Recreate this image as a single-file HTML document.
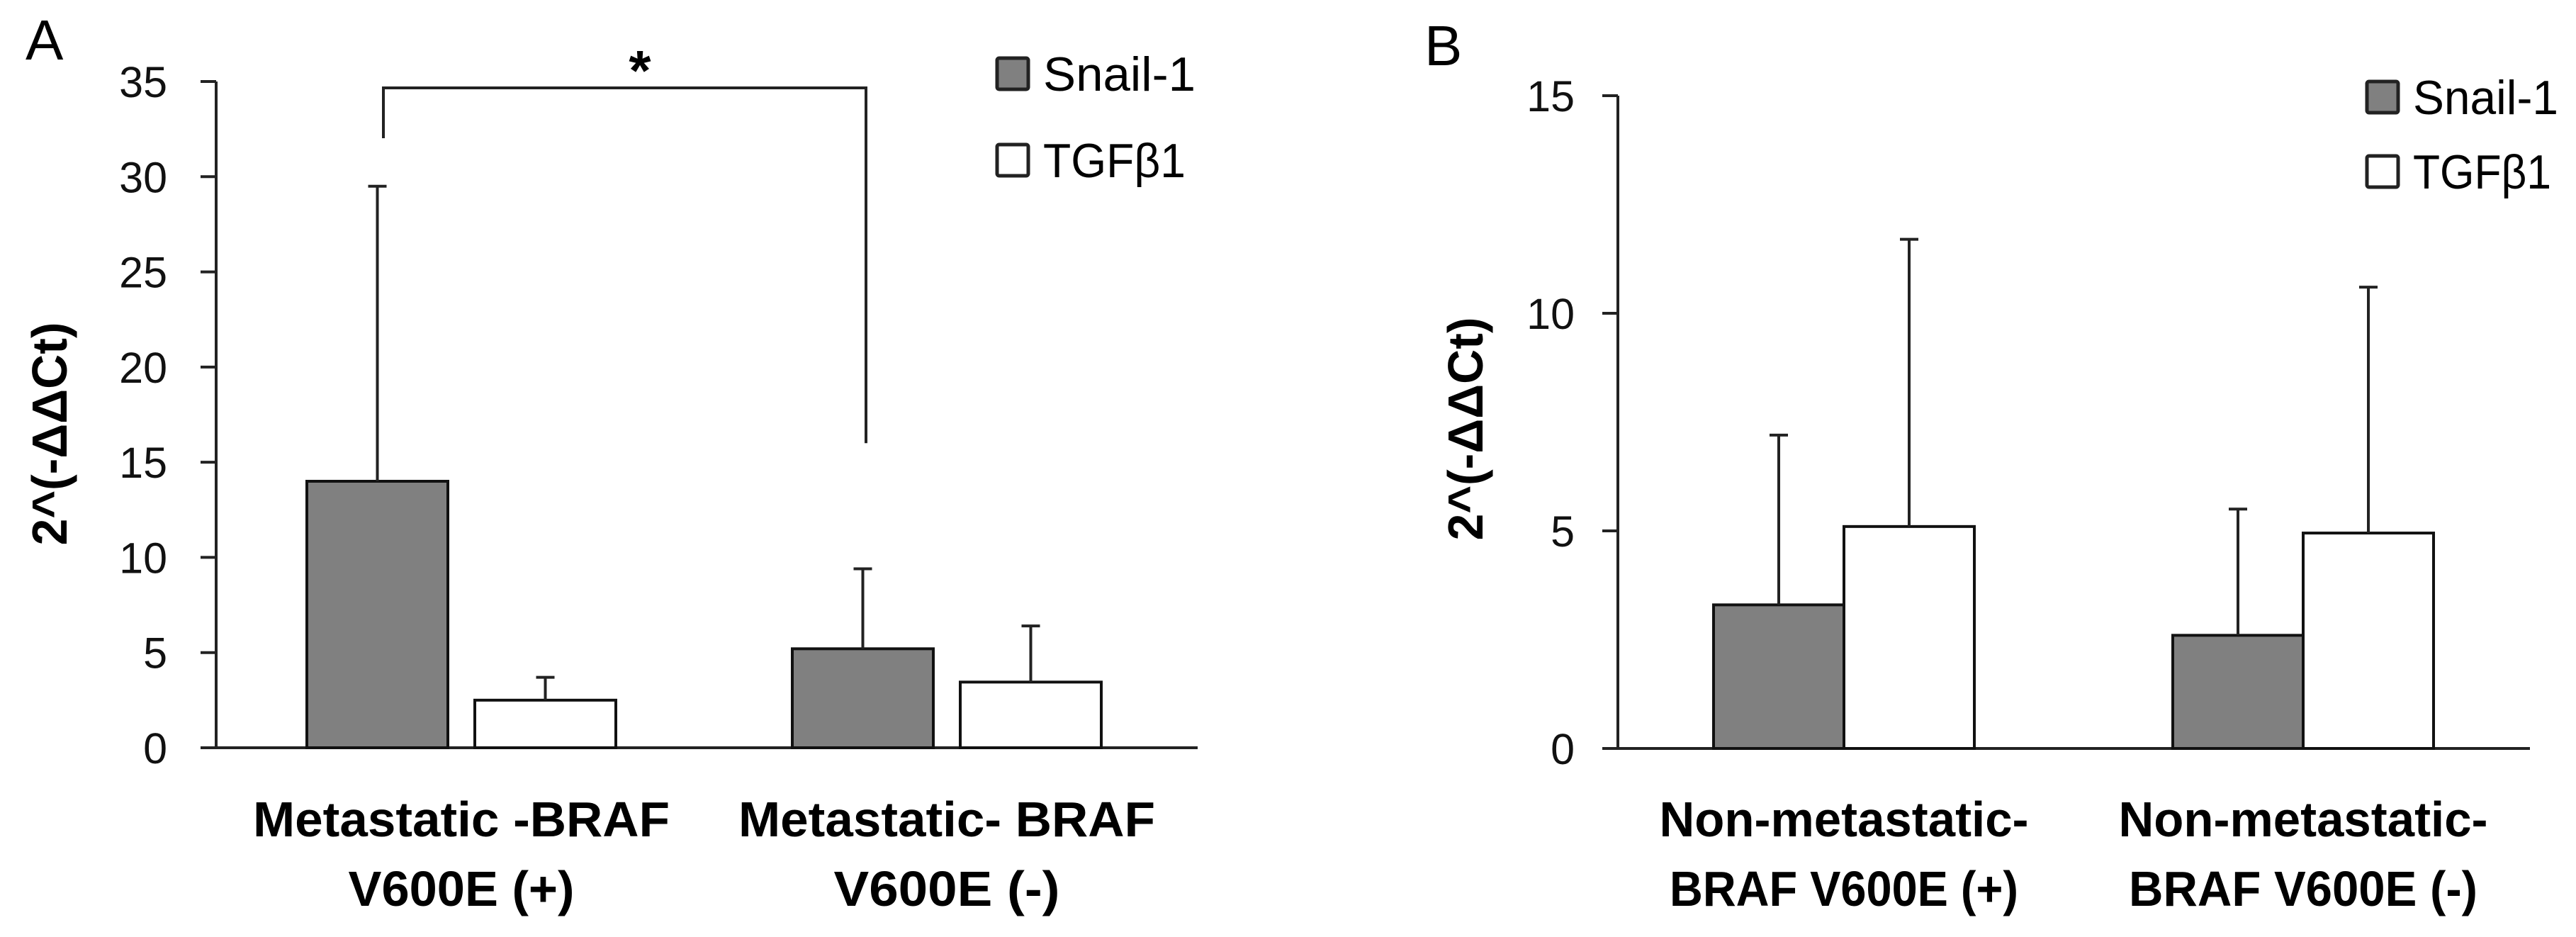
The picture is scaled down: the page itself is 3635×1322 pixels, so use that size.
<!DOCTYPE html>
<html><head><meta charset="utf-8"><style>
html,body{margin:0;padding:0;background:#fff}
svg{display:block;font-family:"Liberation Sans",Arial,sans-serif}
</style></head><body>
<svg id="chart" width="3635" height="1322" viewBox="0 0 3635 1322" xmlns="http://www.w3.org/2000/svg"></svg>
<script>
const categoriesA = [["Metastatic -BRAF","V600E (+)"],["Metastatic- BRAF","V600E (-)"]];
const snailA = [14.0, 5.2];
const snailErrA = [29.5, 9.4];
const tgfA = [2.5, 3.45];
const tgfErrA = [3.7, 6.4];
const ticksA = [0,5,10,15,20,25,30,35];

const categoriesB = [["Non-metastatic-","BRAF V600E (+)"],["Non-metastatic-","BRAF V600E (-)"]];
const snailB = [3.3, 2.6];
const snailErrB = [7.2, 5.5];
const tgfB = [5.1, 4.95];
const tgfErrB = [11.7, 10.6];
const ticksB = [0,5,10,15];

const svg = document.getElementById('chart');
const NS = 'http://www.w3.org/2000/svg';
function mk(tag, attrs, parent){
  const e = document.createElementNS(NS, tag);
  for (const k in attrs) e.setAttribute(k, attrs[k]);
  (parent||svg).appendChild(e);
  return e;
}

function panel(cfg){
  const g = mk('g', {});
  
  
  const y = v => cfg.y0 - (v / cfg.max) * (cfg.y0 - cfg.yTop);
  const ya = mk('line', {x1:cfg.ax, y1:cfg.yTop, x2:cfg.ax, y2:cfg.y0, stroke:'#222', 'stroke-width':4}, g);
  
  
  const xa = mk('line', {x1:cfg.ax-22, y1:cfg.y0, x2:cfg.axEnd, y2:cfg.y0, stroke:'#222', 'stroke-width':4}, g);
  
  
  cfg.ticks.forEach(t => {
    const tk = mk('line', {x1:cfg.ax-22, y1:y(t), x2:cfg.ax, y2:y(t), stroke:'#222', 'stroke-width':4}, g);
    
    
    const tl = mk('text', {x:cfg.tickR, y:y(t)+22, 'text-anchor':'end', 'font-size':61, fill:'#111'}, g);
    tl.textContent = t;
    
    
  });
  const yt = mk('text', {x:0, y:0, 'text-anchor':'middle', 'font-size':70, 'font-weight':'bold', textLength:315, lengthAdjust:'spacingAndGlyphs', transform:`translate(${cfg.titleX+25},${cfg.titleY}) rotate(-90)`}, g);
  yt.textContent = '2^(-ΔΔCt)';
  
  
  const bw = cfg.barW;
  function bar(x, v, err, fill, nm){
    const r = mk('rect', {x:x, y:y(v), width:bw, height:cfg.y0 - y(v), fill:fill, stroke:'#111', 'stroke-width':4}, g);
    
    
    const cx = x + bw/2;
    const el = mk('line', {x1:cx, y1:y(v), x2:cx, y2:y(err), stroke:'#222', 'stroke-width':4}, g);
    
    
    const cap = mk('line', {x1:cx-13, y1:y(err), x2:cx+13, y2:y(err), stroke:'#222', 'stroke-width':4}, g);
    
    
  }
  cfg.cats.forEach((c, i) => {
    const gx = cfg.groupX[i];
    bar(gx, cfg.snail[i], cfg.snailErr[i], '#808080', 'bar-snail-' + (i+1));
    bar(gx + bw + cfg.gap, cfg.tgf[i], cfg.tgfErr[i], '#ffffff', 'bar-tgf-' + (i+1));
    const cx = gx + bw + cfg.gap/2;
    c.forEach((line, j) => {
      const t = mk('text', {x:cx, y:1180 + j*98, 'text-anchor':'middle', 'font-size':70, 'font-weight':'bold', textLength:cfg.labW[j], lengthAdjust:'spacingAndGlyphs'}, g);
      t.textContent = line;
      
      
    });
  });
  [['Snail-1','#808080',0,cfg.legW[0]],['TGFβ1','#ffffff',1,cfg.legW[1]]].forEach(([lab, fill, i, w]) => {
    const ly = cfg.legY + i*cfg.legDy;
    const sq = mk('rect', {x:cfg.legX, y:ly, width:44, height:44, fill:fill, stroke:'#222', 'stroke-width':5, rx:3}, g);
    
    
    const lt = mk('text', {x:cfg.legX+65, y:ly+46, 'font-size':68, textLength:w, lengthAdjust:'spacingAndGlyphs'}, g);
    lt.textContent = lab;
    
    
  });
  const pl = mk('text', {x:cfg.labX, y:cfg.labY, 'font-size':80}, g);
  pl.textContent = cfg.label;
  
  
  return {g, y};
}

const A = panel({name:'panel-a', label:'A', labX:36, labY:84, ax:305, axEnd:1690, yTop:115, y0:1055, max:35, tickR:236,
  ticks:ticksA, cats:categoriesA, snail:snailA, snailErr:snailErrA, tgf:tgfA, tgfErr:tgfErrA,
  groupX:[433, 1118], barW:199, gap:38, titleX:69, titleY:612, legX:1407, legY:82, legDy:122, legW:[215,201], labW:[588,319]});
const br = mk('polyline', {points:`541,195 541,124 1222,124 1222,${A.y(16)}`, fill:'none', stroke:'#222', 'stroke-width':4}, A.g);


const st = mk('text', {x:903, y:127, 'text-anchor':'middle', 'font-size':80, 'font-weight':'bold'}, A.g);
st.textContent = '*';



panel({name:'panel-b', label:'B', labX:2010, labY:92, ax:2283, axEnd:3570, yTop:135, y0:1056, max:15, tickR:2222,
  ticks:ticksB, cats:categoriesB, snail:snailB, snailErr:snailErrB, tgf:tgfB, tgfErr:tgfErrB,
  groupX:[2418, 3066], barW:184, gap:0, titleX:2067, titleY:605, legX:3340, legY:115, legDy:105, legW:[205,195], labW:[521,492]});
</script>
</body></html>
